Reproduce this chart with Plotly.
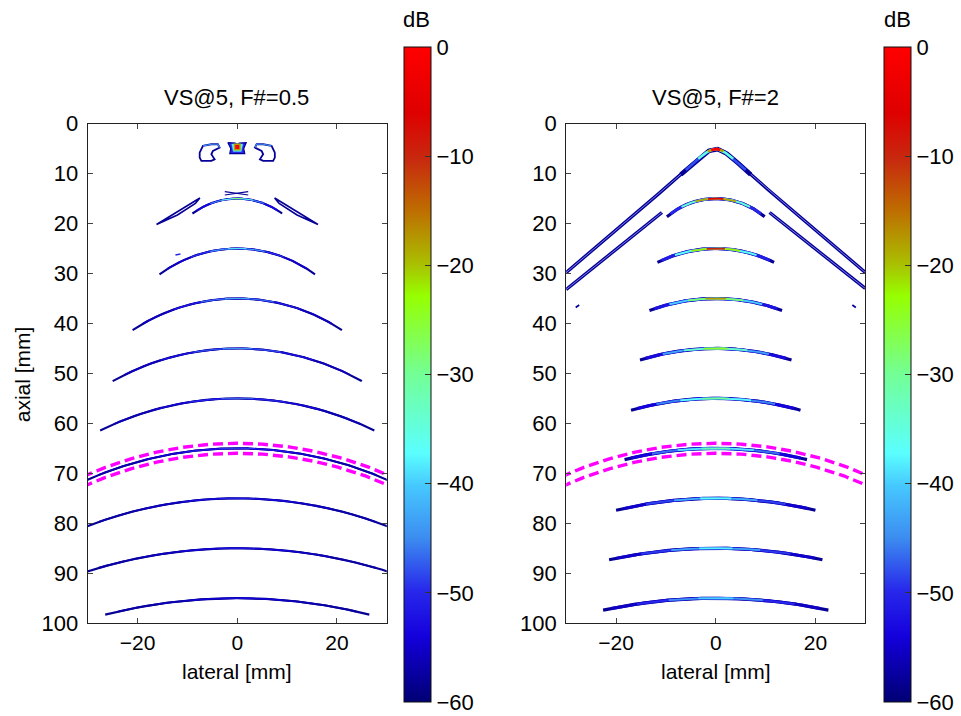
import numpy as np
import plotly.graph_objects as go
from plotly.colors import sample_colorscale

# ---------------- data ----------------
depths = [15, 25, 35, 45, 55, 65, 75, 85, 95]              # arc apex depth [mm]
arc_radius = [15, 26, 38, 51, 62, 75, 84, 100, 108]        # arc curvature radius [mm]
left_half = [9.0, 15.6, 21.0, 25.0, 27.5, 31.0, 31.0, 31.0, 26.5]
left_peak = [-28, -38, -42, -44, -47, -49, -51, -52, -53]  # dB at arc centre
right_half = [9.8, 11.7, 13.3, 15.2, 17.0, 18.3, 20.0, 21.4, 22.6]
right_peak = [-5, -10, -18, -25, -30, -32, -37, -38, -40]

# magenta reference arcs
mag_depths = [64, 66]
mag_radius = 75
mag_half = 31

# right panel: edge-wave "V" near the virtual source
v_upper_x = [-30, -8, -5, -3, -1.5, 0, 1.5, 3, 5, 8, 30]
v_upper_z = [29.8, 11.1, 8.4, 6.6, 5.5, 5.0, 5.5, 6.6, 8.4, 11.1, 29.8]
v_lower_left_x = [-30, -10.8]
v_lower_left_z = [33.2, 17.8]
v_lower_right_x = [10.8, 30]
v_lower_right_z = [17.8, 33.0]
right_dash_x = [[-28.1, -27.4], [27.4, 28.1]]
right_dash_z = [[36.8, 36.3], [36.3, 36.8]]

# left panel: shallow side lobes
lobe5_x = [-7.54, -6.88, -5.2, -3.88, -3.54, -4.88, -5.2, -4.54, -5.2, -7.2, -7.54, -7.54]
lobe5_z = [5.8, 4.46, 4.14, 4.14, 4.8, 5.46, 6.14, 7.14, 7.46, 7.46, 6.8, 5.8]
blob5_x = [-1.9, -0.4, 0.0, 0.4, 1.8, 1.3, 1.5, -1.5, -1.3, -1.9]
blob5_z = [3.8, 3.9, 4.2, 3.9, 3.8, 5.0, 6.0, 6.0, 5.0, 3.8]
blob5_core_x = [-1.1, 1.1, 0.8, -0.8, -1.1]
blob5_core_z = [4.1, 4.1, 5.6, 5.6, 4.1]
lobe15_x = [-16.2, -12.0, -7.5, -8.4, -12.0, -16.2]
lobe15_z = [20.2, 17.6, 14.9, 16.0, 18.3, 20.2]
cross15_x = [[-2.5, 2.2], [-2.5, 2.2]]
cross15_z = [[13.6, 14.3], [14.3, 13.6]]
dash25_x = [-12.4, -11.4]
dash25_z = [26.3, 26.1]

# colour map (dB)
db_scale = [[0.0, 'rgb(0,0,115)'], [0.1, 'rgb(20,0,220)'], [0.17, 'rgb(40,40,235)'],
            [0.25, 'rgb(60,140,240)'], [0.33, 'rgb(70,200,255)'], [0.38, 'rgb(90,255,255)'],
            [0.5, 'rgb(115,255,150)'], [0.62, 'rgb(150,255,0)'], [0.67, 'rgb(170,190,0)'],
            [0.75, 'rgb(190,110,0)'], [0.83, 'rgb(200,40,15)'], [0.9, 'rgb(222,0,0)'],
            [1.0, 'rgb(255,0,0)']]
DB_MIN, DB_MAX = -60, 0
cb_ticks = [-60, -50, -40, -30, -20, -10, 0]
y_ticks = [0, 10, 20, 30, 40, 50, 60, 70, 80, 90, 100]
x_ticks = [-20, 0, 20]


def col(db):
    return sample_colorscale(db_scale, [(db - DB_MIN) / (DB_MAX - DB_MIN)])[0]


W, H = 961, 716
FONT = 'Liberation Sans, Arial, sans-serif'
FS = 21


def vy(py):
    # vertical page position, corrected for the vertical squeeze seen in the rendering
    return (py - 11.3) / 0.966


fig = go.Figure()


def line(x, z, color, width, ax, dash=None, fill=None, fillcolor=None):
    fig.add_trace(go.Scatter(
        x=x, y=z, mode='lines', xaxis='x' + ax, yaxis='y' + ax,
        line=dict(color=color, width=width, dash=dash),
        fill=fill, fillcolor=fillcolor,
        hoverinfo='skip', showlegend=False))


def tiered(xs, zs, peak, ax, widths, fracs):
    xs = np.asarray(xs, float)
    zs = np.asarray(zs, float)
    half = np.max(np.abs(xs))
    floor = -58.0
    mix = [1.0, 0.85, 0.55, 0.25, 0.0]
    for f, mx, w in zip(fracs, mix, widths):
        d = peak + (floor - peak) * mx
        m = np.abs(xs) <= f * half + 1e-9
        line(xs[m], zs[m], col(d), w, ax)


def arc(z0, R, half, n=361):
    x = np.linspace(-half, half, n)
    return x, z0 + R - np.sqrt(R ** 2 - x ** 2)


# ---------------- left panel (F#=0.5) ----------------
ax = ''
for z0, R, hw, pk in zip(depths, arc_radius, left_half, left_peak):
    xs, zs = arc(z0, R, hw)
    tiered(xs, zs, pk, ax, (2.1, 1.9, 1.0, 1.0, 1.0), (1.0, 0.9, 0.6, 0.35, 0.12))
# side lobes at 5 mm
for s in (1, -1):
    line([s * v for v in lobe5_x], lobe5_z, col(-58), 1.8, ax)
    line([s * v for v in lobe5_x[1:5]], lobe5_z[1:5], col(-45), 1.2, ax)
line(blob5_x, blob5_z, col(-58), 1.2, ax, fill='toself', fillcolor=col(-50))
line(blob5_core_x, blob5_core_z, col(-40), 0.5, ax, fill='toself', fillcolor=col(-35))
fig.add_trace(go.Scatter(x=[0.0], y=[4.7], mode='markers', xaxis='x', yaxis='y',
                         marker=dict(symbol='square', size=7, color=col(-18)),
                         hoverinfo='skip', showlegend=False))
fig.add_trace(go.Scatter(x=[0.0], y=[4.7], mode='markers', xaxis='x', yaxis='y',
                         marker=dict(symbol='square', size=4, color=col(0)),
                         hoverinfo='skip', showlegend=False))
for s in (1, -1):
    line([s * v for v in lobe15_x], lobe15_z, col(-58), 1.6, ax)
for cx, cz in zip(cross15_x, cross15_z):
    line(cx, cz, col(-58), 1.2, ax)
line(dash25_x, dash25_z, col(-50), 1.5, ax)

# ---------------- right panel (F#=2) ----------------
ax = '2'
for z0, R, hw, pk in zip(depths, arc_radius, right_half, right_peak):
    xs, zs = arc(z0, R, hw)
    tiered(xs, zs, pk, ax, (3.2, 3.0, 2.0, 1.8, 1.8), (1.0, 0.93, 0.7, 0.42, 0.16))
# V (upper) with apex
vx = np.linspace(-30, 30, 1201)
vz = np.interp(vx, v_upper_x, v_upper_z)
line(vx, vz, col(-58), 3.4, ax)
line(vx, vz, 'rgb(150,160,250)', 0.8, ax)
ap = np.abs(vx) <= 7
line(vx[ap], vz[ap], col(-58), 4.6, ax)
for lim, d, w in ((6.0, -48, 2.6), (3.5, -35, 2.4), (1.6, -18, 2.4), (0.9, 0, 2.6)):
    m = np.abs(vx) <= lim
    line(vx[m], vz[m], col(d), w, ax)
for lx, lz in ((v_lower_left_x, v_lower_left_z), (v_lower_right_x, v_lower_right_z)):
    line(lx, lz, col(-58), 3.4, ax)
    line(lx, lz, 'rgb(150,160,250)', 0.8, ax)
for dx, dz in zip(right_dash_x, right_dash_z):
    line(dx, dz, col(-58), 1.8, ax)

# ---------------- magenta reference arcs ----------------
for ax in ('', '2'):
    for zc in mag_depths:
        xs, zs = arc(zc, mag_radius, mag_half)
        line(xs, zs, 'rgb(255,0,255)', 3.4, ax, dash='10px,5px')

# ---------------- colour bars ----------------
cb_top, cb_bot = vy(46), vy(702)
for ax, cx in (('', 405), ('2', 887)):
    fig.add_trace(go.Scatter(
        x=[0], y=[50], mode='markers', xaxis='x' + ax, yaxis='y' + ax,
        marker=dict(color=[DB_MIN], colorscale=db_scale, cmin=DB_MIN, cmax=DB_MAX,
                    opacity=0, showscale=True,
                    colorbar=dict(x=cx / W, xanchor='left', xpad=0, ypad=0,
                                  y=1 - cb_bot / H, yanchor='bottom',
                                  len=(cb_bot - cb_top) / H, lenmode='fraction',
                                  thickness=27, thicknessmode='pixels',
                                  outlinewidth=1, outlinecolor='#111',
                                  tickvals=cb_ticks, ticks='inside', ticklen=6,
                                  tickcolor='#333',
                                  tickfont=dict(family=FONT, size=22, color='black'))),
        hoverinfo='skip', showlegend=False))

# ---------------- axes ----------------
axis_common = dict(showline=True, linecolor='#222', linewidth=1, mirror='ticks',
                   ticks='inside', ticklen=5, tickcolor='#444', showgrid=False,
                   zeroline=False)
xtf = dict(family=FONT, size=21, color='black')
ytf = dict(family=FONT, size=22, color='black')
yd = [1 - vy(623) / H, 1 - vy(123) / H]
fig.update_layout(
    width=W, height=H, margin=dict(l=0, r=0, t=0, b=0),
    paper_bgcolor='white', plot_bgcolor='white',
    font=dict(family=FONT, size=FS, color='black'),
    xaxis=dict(domain=[88 / W, 388 / W], range=[-30, 30], tickvals=x_ticks,
               anchor='y', ticklabelstandoff=1, tickfont=xtf, **axis_common),
    yaxis=dict(domain=yd, range=[100, 0], tickvals=y_ticks, anchor='x',
               ticklabelstandoff=4, tickfont=ytf, **axis_common),
    xaxis2=dict(domain=[568 / W, 868 / W], range=[-30, 30], tickvals=x_ticks,
                anchor='y2', ticklabelstandoff=1, tickfont=xtf, **axis_common),
    yaxis2=dict(domain=yd, range=[100, 0], tickvals=y_ticks, anchor='x2',
                ticklabelstandoff=4, tickfont=ytf, **axis_common),
)

ann = [
    ('VS@5, F#=0.5', 237.7, 97, 0, 22),
    ('VS@5, F#=2', 718, 97, 0, 22),
    ('lateral [mm]', 237.7, 671, 0, FS),
    ('lateral [mm]', 718, 671, 0, FS),
    ('axial [mm]', 22, 374, -90, FS),
    ('dB', 418, 19, 0, 22),
    ('dB', 900, 19, 0, 22),
]
for t, px, py, ang, fs in ann:
    fig.add_annotation(text=t, x=px / W, y=1 - vy(py) / H, xref='paper', yref='paper',
                       xanchor='center', yanchor='middle', showarrow=False,
                       textangle=ang, font=dict(family=FONT, size=fs, color='black'))

fig.write_html('out.html')
